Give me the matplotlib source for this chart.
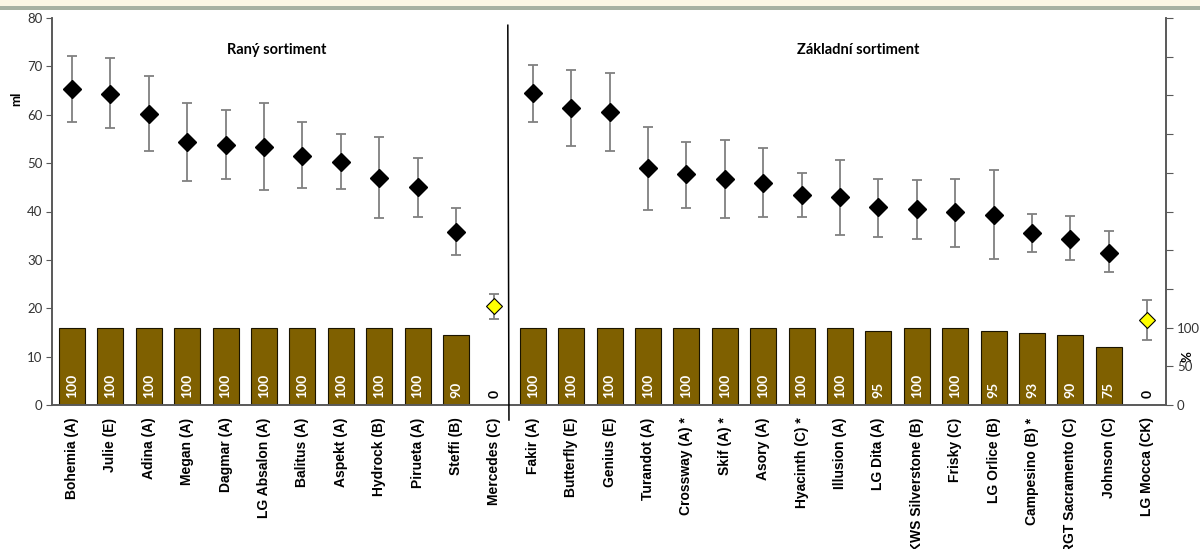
import matplotlib
matplotlib.use("Agg")
import matplotlib.pyplot as plt
from matplotlib.patches import Rectangle
import numpy as np

early_names = ["Bohemia (A)", "Julie (E)", "Adina (A)", "Megan (A)", "Dagmar (A)",
               "LG Absalon (A)", "Balitus (A)", "Aspekt (A)", "Hydrock (B)",
               "Pirueta (A)", "Steffi (B)", "Mercedes (C)"]
early_mean = [65.4, 64.3, 60.2, 54.4, 53.7, 53.3, 51.5, 50.2, 47.0, 45.0, 35.8, 20.4]
early_upper = [72.2, 71.8, 68.1, 62.4, 61.0, 62.4, 58.4, 56.0, 55.4, 51.1, 40.7, 23.0]
early_lower = [58.5, 57.3, 52.6, 46.3, 46.8, 44.4, 44.8, 44.6, 38.7, 38.9, 31.1, 17.8]
early_pct = [100, 100, 100, 100, 100, 100, 100, 100, 100, 100, 90, 0]

base_names = ["Fakir (A)", "Butterfly (E)", "Genius (E)", "Turandot (A)", "Crossway (A) *",
              "Skif (A) *", "Asory (A)", "Hyacinth (C) *", "Illusion (A)", "LG Dita (A)",
              "KWS Silverstone (B)", "Frisky (C)", "LG Orlice (B)", "Campesino (B) *",
              "RGT Sacramento (C)", "Johnson (C)", "LG Mocca (CK)"]
base_mean = [64.4, 61.3, 60.6, 48.9, 47.7, 46.7, 45.9, 43.5, 42.9, 40.9, 40.5, 39.8,
             39.3, 35.6, 34.3, 31.5, 17.6]
base_upper = [70.3, 69.2, 68.6, 57.5, 54.4, 54.8, 53.1, 47.9, 50.7, 46.8, 46.6, 46.8,
              48.5, 39.5, 39.0, 35.9, 21.8]
base_lower = [58.6, 53.5, 52.6, 40.4, 40.8, 38.7, 38.9, 38.9, 35.2, 34.8, 34.4, 32.7,
              30.2, 31.7, 30.0, 27.5, 13.4]
base_pct = [100, 100, 100, 100, 100, 100, 100, 100, 100, 95, 100, 100, 95, 93, 90, 75, 0]

group_titles = ["Raný sortiment", "Základní sortiment"]
pct_ticks = [0, 50, 100, 150, 200, 250, 300, 350, 400, 450, 500]
pct_ticklabels = ["0", "50", "100", "", "", "", "", "", "", "", ""]

names = early_names + base_names
mean = np.array(early_mean + base_mean)
upper = np.array(early_upper + base_upper)
lower = np.array(early_lower + base_lower)
pct = np.array(early_pct + base_pct)
x = np.arange(len(names))
n_early = len(early_names)

calibri = ["Lato", "DejaVu Sans"]
arial = ["Liberation Sans", "DejaVu Sans"]

fig = plt.figure(figsize=(12, 5.49), dpi=100)
fig.patch.set_facecolor("white")

# decorative top strip
fig.patches.append(Rectangle((0, 1 - 9 / 549), 1, 9 / 549, transform=fig.transFigure,
                             facecolor="#fbf5e4", edgecolor="none", zorder=0))
fig.patches.append(Rectangle((0, 1 - 10 / 549), 1, 4 / 549, transform=fig.transFigure,
                             facecolor="#a7b0a2", edgecolor="none", zorder=0))

ax = fig.add_axes([52 / 1200, 1 - 405 / 549, (1166 - 52) / 1200, (405 - 18) / 549])
ax2 = ax.twinx()
ax.set_zorder(ax2.get_zorder() + 1)
ax.patch.set_visible(False)
ax2.patch.set_facecolor("#fff2cc")

# bars (percent)
ax2.bar(x, pct, width=0.68, color="#7f6000", edgecolor="#1a1400", linewidth=0.8, zorder=2)
for xi, p in zip(x, pct):
    ax2.text(xi, 9, f"{p:g}", rotation=90, ha="center", va="bottom",
             color="white" if p > 0 else "black", fontsize=10, fontweight="bold",
             family=calibri, zorder=3)
ax2.set_ylim(0, 500)
ax2.set_yticks(pct_ticks)
ax2.set_yticklabels(pct_ticklabels)

# points with error bars
ctrl = pct == 0
yerr = np.vstack([mean - lower, upper - mean])
ax.errorbar(x, mean, yerr=yerr, fmt="none", ecolor="#808080", elinewidth=1.3,
            capsize=3.5, capthick=1.3, zorder=3)
ax.plot(x[~ctrl], mean[~ctrl], linestyle="none", marker="D", markersize=9,
        color="black", zorder=4)
ax.plot(x[ctrl], mean[ctrl], linestyle="none", marker="D", markersize=8,
        markerfacecolor="#ffff00", markeredgecolor="black", markeredgewidth=0.8, zorder=4)

ax.set_xlim(-0.52, len(names) - 0.51)
ax.set_ylim(0, 80)
ax.set_yticks(range(0, 81, 10))
ax.set_xticks(x)
ax.set_xticklabels(names, rotation=90, fontsize=10, fontweight="bold", family=arial)
ax.tick_params(axis="x", length=0, pad=9)
ax.tick_params(axis="y", length=4, color="#595959", labelsize=9.5, labelcolor="#333333",
               pad=3)
for lbl in ax.get_yticklabels():
    lbl.set_family(calibri)
ax2.tick_params(axis="y", length=5, color="#595959", labelsize=9.5, labelcolor="#333333",
                pad=3)
for lbl in ax2.get_yticklabels():
    lbl.set_family(calibri)

for a in (ax, ax2):
    a.spines["top"].set_visible(False)
    for s in ("left", "right", "bottom"):
        a.spines[s].set_color("#595959")
        a.spines[s].set_linewidth(1.2)

# divider
ax.plot([n_early - 0.65, n_early - 0.62], [78.5, -3.1], color="black", linewidth=1.1,
        clip_on=False, zorder=5)

# group titles
ax.text(5.34, 73.4, group_titles[0], ha="center", va="center", fontsize=10.5,
        fontweight="bold", family=calibri)
ax.text(20.47, 73.4, group_titles[1], ha="center", va="center", fontsize=10.5,
        fontweight="bold", family=calibri)

ax.set_ylabel("ml", fontsize=9.5, fontweight="bold", family=calibri)
ax.yaxis.set_label_coords(-0.027, 0.79)
ax2.text(1.019, 0.126, "%", rotation=90, ha="center", va="center", fontsize=9.5,
         fontweight="bold", family=calibri, transform=ax2.transAxes)

fig.savefig("out.png", dpi=100)
